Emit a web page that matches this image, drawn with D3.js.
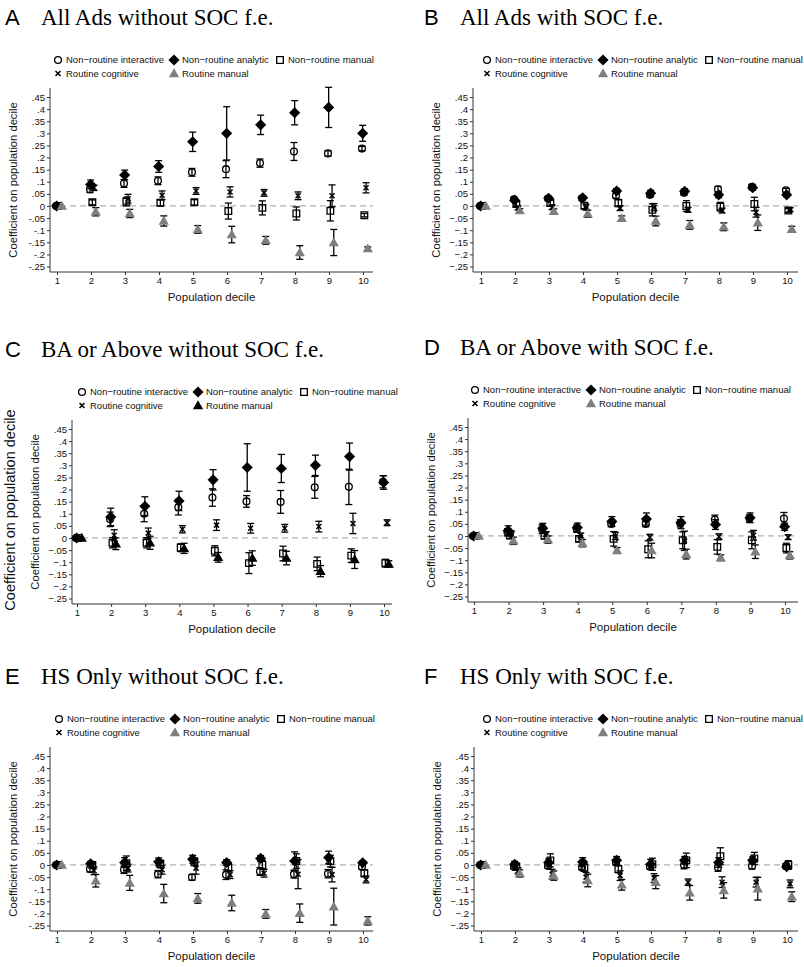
<!DOCTYPE html>
<html><head><meta charset="utf-8">
<script src="https://cdn.jsdelivr.net/npm/d3@7"></script>
<style>body{margin:0;background:#fff}svg{display:block}</style>
</head><body><svg id="c" width="804" height="967"></svg>
<script>
// ---------------- DATA ----------------
const deciles = [1,2,3,4,5,6,7,8,9,10];
const yTickValues = [0.45,0.4,0.35,0.3,0.25,0.2,0.15,0.1,0.05,0,-0.05,-0.1,-0.15,-0.2,-0.25];
const seriesNames = ["Non\u2212routine interactive","Non\u2212routine analytic","Non\u2212routine manual","Routine cognitive","Routine manual"];
const panelLetters = ["A","B","C","D","E","F"];
const panelTitles = ["All Ads without SOC f.e.","All Ads with SOC f.e.","BA or Above without SOC f.e.","BA or Above with SOC f.e.","HS Only without SOC f.e.","HS Only with SOC f.e."];
const xLabel = "Population decile";
const yLabel = "Coefficient on population decile";

// Panel A
const A_NRI   = [0, .069, .093, .104, .139, .152, .177, .225, .217, .237];
const A_NRI_E = [0, .014, .016, .016, .016, .035, .017, .037, .011, .009];
const A_NRA   = [0, .089, .128, .163, .265, .300, .335, .385, .407, .300];
const A_NRA_E = [0, .018, .020, .024, .040, .110, .040, .050, .083, .033];
const A_NRM   = [0, .015, .018, .013, .015, -.021, -.008, -.031, -.020, -.038];
const A_NRM_E = [0, .010, .018, .012, .011, .033, .029, .027, .042, .007];
const A_RC    = [0, .075, .030, .044, .062, .058, .054, .042, .042, .075];
const A_RC_E  = [0, .011, .018, .018, .014, .021, .014, .016, .045, .021];
const A_RM    = [0, -.024, -.031, -.062, -.097, -.118, -.142, -.192, -.151, -.176];
const A_RM_E  = [0, .017, .017, .021, .016, .034, .016, .028, .054, .007];
// Panel B
const B_NRI   = [0, .028, .031, .032, .042, .046, .055, .069, .079, .065];
const B_NRI_E = [0, .008, .008, .008, .010, .010, .010, .012, .010, .008];
const B_NRA   = [0, .024, .032, .034, .062, .053, .061, .046, .075, .046];
const B_NRA_E = [0, .008, .008, .008, .010, .012, .010, .012, .010, .008];
const B_NRM   = [0, .008, .012, .001, .012, -.016, .000, -.003, .008, -.019];
const B_NRM_E = [0, .010, .012, .012, .015, .025, .022, .018, .028, .008];
const B_RC    = [0, -.008, -.005, -.005, -.009, -.005, -.016, -.019, -.026, -.015];
const B_RC_E  = [0, .008, .010, .012, .010, .015, .010, .010, .020, .008];
const B_RM    = [0, -.019, -.022, -.032, -.051, -.062, -.078, -.086, -.069, -.096];
const B_RM_E  = [0, .008, .010, .015, .010, .020, .018, .016, .032, .012];
// Panel C
const C_NRI   = [0, .077, .100, .127, .167, .151, .149, .209, .211, .232];
const C_NRI_E = [0, .030, .033, .032, .036, .024, .047, .045, .073, .025];
const C_NRA   = [0, .087, .131, .153, .240, .291, .287, .300, .336, .229];
const C_NRA_E = [0, .036, .039, .040, .042, .098, .058, .042, .056, .028];
const C_NRM   = [0, -.020, -.020, -.040, -.053, -.104, -.064, -.107, -.073, -.104];
const C_NRM_E = [0, .021, .021, .016, .021, .043, .030, .028, .028, .016];
const C_RC    = [0, .011, .020, .036, .053, .040, .040, .047, .060, .063];
const C_RC_E  = [0, .023, .021, .015, .022, .020, .016, .022, .042, .012];
const C_RM    = [0, -.024, -.020, -.043, -.080, -.083, -.083, -.137, -.089, -.107];
const C_RM_E  = [0, .024, .027, .021, .020, .030, .028, .023, .037, .013];
// Panel D
const D_NRI   = [0, .015, .028, .030, .050, .050, .052, .068, .072, .072];
const D_NRI_E = [0, .015, .018, .015, .012, .012, .015, .018, .015, .025];
const D_NRA   = [0, .022, .032, .035, .060, .070, .055, .047, .075, .038];
const D_NRA_E = [0, .020, .020, .018, .020, .025, .025, .020, .020, .015];
const D_NRM   = [0, .003, .002, -.012, -.012, -.055, -.018, -.045, -.018, -.050];
const D_NRM_E = [0, .015, .015, .012, .030, .035, .035, .030, .035, .020];
const D_RC    = [0, .005, .008, .002, .000, -.005, -.020, -.003, .003, -.005];
const D_RC_E  = [0, .015, .010, .010, .015, .012, .040, .012, .020, .010];
const D_RM    = [0, -.020, -.015, -.030, -.060, -.060, -.075, -.090, -.065, -.080];
const D_RM_E  = [0, .015, .015, .015, .012, .030, .020, .012, .028, .015];
// Panel E
const E_NRI   = [0, -.017, -.020, -.038, -.051, -.040, -.027, -.038, -.036, -.007];
const E_NRI_E = [0, .012, .015, .015, .012, .020, .016, .016, .017, .012];
const E_NRA   = [0, .005, .010, .013, .024, .010, .027, .016, .031, .009];
const E_NRA_E = [0, .010, .020, .016, .016, .012, .012, .038, .026, .008];
const E_NRM   = [0, .000, .007, .004, .013, -.010, .000, .016, .016, -.034];
const E_NRM_E = [0, .012, .030, .016, .016, .016, .018, .030, .024, .014];
const E_RC    = [0, -.024, -.013, -.020, -.013, -.040, -.034, -.038, -.040, -.060];
const E_RC_E  = [0, .016, .016, .018, .025, .016, .016, .060, .030, .014];
const E_RM    = [0, -.065, -.074, -.118, -.138, -.157, -.202, -.199, -.172, -.231];
const E_RM_E  = [0, .026, .031, .038, .020, .032, .018, .038, .076, .017];
// Panel F
const F_NRI   = [0, -.007, -.004, -.010, .010, -.007, .000, -.010, -.004, -.004];
const F_NRI_E = [0, .010, .010, .010, .010, .010, .016, .016, .013, .010];
const F_NRA   = [0, .003, .010, .012, .019, .003, .019, .010, .019, -.007];
const F_NRA_E = [0, .012, .015, .018, .016, .020, .016, .020, .015, .011];
const F_NRM   = [0, -.007, .019, -.011, -.017, .003, .019, .036, .027, .000];
const F_NRM_E = [0, .015, .027, .015, .015, .025, .030, .035, .025, .018];
const F_RC    = [0, -.024, -.038, -.051, -.044, -.054, -.071, -.071, -.071, -.078];
const F_RC_E  = [0, .013, .020, .020, .020, .018, .013, .022, .020, .016];
const F_RM    = [0, -.035, -.044, -.064, -.082, -.071, -.115, -.105, -.098, -.131];
const F_RM_E  = [0, .015, .019, .026, .022, .027, .030, .032, .047, .020];

// ---------------- LAYOUT ----------------
const SANS = "'Liberation Sans', Arial, sans-serif";
const SERIF = "'Liberation Serif', 'Times New Roman', serif";
const GRAY = "#7f7f7f";

const panelData = [
  [[A_NRI,A_NRI_E],[A_NRA,A_NRA_E],[A_NRM,A_NRM_E],[A_RC,A_RC_E],[A_RM,A_RM_E]],
  [[B_NRI,B_NRI_E],[B_NRA,B_NRA_E],[B_NRM,B_NRM_E],[B_RC,B_RC_E],[B_RM,B_RM_E]],
  [[C_NRI,C_NRI_E],[C_NRA,C_NRA_E],[C_NRM,C_NRM_E],[C_RC,C_RC_E],[C_RM,C_RM_E]],
  [[D_NRI,D_NRI_E],[D_NRA,D_NRA_E],[D_NRM,D_NRM_E],[D_RC,D_RC_E],[D_RM,D_RM_E]],
  [[E_NRI,E_NRI_E],[E_NRA,E_NRA_E],[E_NRM,E_NRM_E],[E_RC,E_RC_E],[E_RM,E_RM_E]],
  [[F_NRI,F_NRI_E],[F_NRA,F_NRA_E],[F_NRM,F_NRM_E],[F_RC,F_RC_E],[F_RM,F_RM_E]]
];

const layouts = [
  {L:60,  yAxisX:50,  x1:57,  x10:363, xEnd:373, letterX:5,   titleX:41,  legX:58,  minus:"-", triColor:GRAY},
  {L:60,  yAxisX:473, x1:481, x10:787, xEnd:798, letterX:424, titleX:460, legX:487, minus:"\u2212", triColor:GRAY},
  {L:392, yAxisX:72,  x1:77,  x10:384, xEnd:392, letterX:5,   titleX:41,  legX:82,  minus:"\u2212", triColor:"#000", bigLabel:true},
  {L:390, yAxisX:468, x1:474, x10:785, xEnd:798, letterX:424, titleX:460, legX:475, minus:"\u2212", triColor:GRAY},
  {L:719, yAxisX:50,  x1:57,  x10:363, xEnd:373, letterX:5,   titleX:41,  legX:59,  minus:"-", triColor:GRAY},
  {L:719, yAxisX:474, x1:481, x10:787, xEnd:798, letterX:424, titleX:460, legX:487, minus:"\u2212", triColor:GRAY}
];

const offsets = [-0.03, -0.01, 0.04, 0.09, 0.14];
const svg = d3.select("#c");

function drawMarker(g, type, cx, cy, triColor) {
  if (type === 0) {
    g.append("circle").attr("cx",cx).attr("cy",cy).attr("r",3.4)
      .attr("fill","none").attr("stroke","#000").attr("stroke-width",1.3);
  } else if (type === 1) {
    g.append("path").attr("d", d3.symbol(d3.symbolSquare, 62)())
      .attr("transform",`translate(${cx},${cy}) rotate(45)`).attr("fill","#000");
  } else if (type === 2) {
    g.append("path").attr("d", d3.symbol(d3.symbolSquare, 44)())
      .attr("transform",`translate(${cx},${cy})`)
      .attr("fill","none").attr("stroke","#000").attr("stroke-width",1.3);
  } else if (type === 3) {
    const p = d3.path(); const r = 2.5;
    p.moveTo(-r,-r); p.lineTo(r,r); p.moveTo(-r,r); p.lineTo(r,-r);
    g.append("path").attr("d", p.toString()).attr("transform",`translate(${cx},${cy})`)
      .attr("stroke","#000").attr("stroke-width",1.5).attr("fill","none");
  } else {
    g.append("path").attr("d", d3.symbol(d3.symbolTriangle, 46)())
      .attr("transform",`translate(${cx},${cy+0.8})`).attr("fill",triColor);
  }
}

layouts.forEach((p, i) => {
  const g = svg.append("g");
  const L = p.L;
  const xAxisY = L + 212, axisTop = L + 28;
  const y = d3.scaleLinear().domain([-0.25, 0.45]).range([L + 206.5, L + 37]);
  const x = d3.scaleLinear().domain([1, 10]).range([p.x1, p.x10]);

  // title
  g.append("text").attr("x", p.letterX).attr("y", L - 35).text(panelLetters[i])
    .style("font-family", SANS).style("font-size", "22px").attr("fill","#000");
  g.append("text").attr("x", p.titleX).attr("y", L - 35).text(panelTitles[i])
    .style("font-family", SERIF).style("font-size", "23px").attr("fill","#000");

  // legend
  const legCols = [0, 116, 222];
  const legPos = [[0,0],[1,0],[2,0],[0,1],[1,1]];
  seriesNames.forEach((name, k) => {
    const lx = p.legX + legCols[legPos[k][0]];
    const ly = L + legPos[k][1] * 13.5;
    drawMarker(g, k, lx, ly, p.triColor);
    g.append("text").attr("x", lx + 8).attr("y", ly + 3.4).text(name)
      .style("font-family", SANS).style("font-size", "9.5px").attr("fill","#111");
  });

  // zero dashed line
  g.append("line").attr("x1", p.yAxisX).attr("x2", p.xEnd).attr("y1", y(0)).attr("y2", y(0))
    .attr("stroke", "#b3b3b3").attr("stroke-width", 1.3).attr("stroke-dasharray", "6,4");

  // y axis
  const fmt = v => v === 0 ? "0" : (v < 0 ? p.minus : "") + String(+Math.abs(v).toFixed(2)).replace(/^0/, "");
  const yAx = g.append("g").attr("transform", `translate(${p.yAxisX},0)`)
    .call(d3.axisLeft(y).tickValues(yTickValues).tickFormat(fmt).tickSize(3).tickPadding(2));
  yAx.select(".domain").remove();
  yAx.selectAll("line").attr("stroke", "#333");
  yAx.selectAll("text").style("font-family", SANS).style("font-size", "9.5px").attr("fill", "#111");
  g.append("line").attr("x1", p.yAxisX).attr("x2", p.yAxisX).attr("y1", axisTop).attr("y2", xAxisY)
    .attr("stroke", "#333").attr("stroke-width", 1);

  // x axis
  const xAx = g.append("g").attr("transform", `translate(0,${xAxisY})`)
    .call(d3.axisBottom(x).tickValues(deciles).tickFormat(d3.format("d")).tickSize(3).tickPadding(2));
  xAx.select(".domain").remove();
  xAx.selectAll("line").attr("stroke", "#333");
  xAx.selectAll("text").style("font-family", SANS).style("font-size", "9.5px").attr("fill", "#111");
  g.append("line").attr("x1", p.yAxisX).attr("x2", p.xEnd).attr("y1", xAxisY).attr("y2", xAxisY)
    .attr("stroke", "#333").attr("stroke-width", 1);

  // axis titles
  g.append("text").attr("x", (p.yAxisX + p.xEnd) / 2).attr("y", L + 241).attr("text-anchor", "middle")
    .text(xLabel).style("font-family", SANS).style("font-size", "11.5px").attr("fill", "#111");
  g.append("text").attr("transform", `translate(${p.yAxisX - 33},${L + 120}) rotate(-90)`)
    .attr("text-anchor", "middle").text(yLabel)
    .style("font-family", SANS).style("font-size", "11.2px").attr("fill", "#111");
  if (p.bigLabel) {
    g.append("text").attr("transform", `translate(${15},${L + 118}) rotate(-90)`)
      .attr("text-anchor", "middle").text(yLabel)
      .style("font-family", SANS).style("font-size", "14.5px").attr("fill", "#111");
  }

  // series
  panelData[i].forEach((s, k) => {
    const [est, err] = s;
    const sg = g.append("g");
    deciles.forEach((d, j) => {
      const cx = x(d + offsets[k]);
      if (err[j] > 0) {
        const yt = y(est[j] + err[j]), yb = y(est[j] - err[j]);
        sg.append("line").attr("x1", cx).attr("x2", cx).attr("y1", yt).attr("y2", yb)
          .attr("stroke", "#000").attr("stroke-width", 1.3);
        [yt, yb].forEach(yy => sg.append("line").attr("x1", cx - 3.5).attr("x2", cx + 3.5)
          .attr("y1", yy).attr("y2", yy).attr("stroke", "#000").attr("stroke-width", 1.3));
      }
      drawMarker(sg, k, cx, y(est[j]), p.triColor);
    });
  });
});
</script>
</body></html>
